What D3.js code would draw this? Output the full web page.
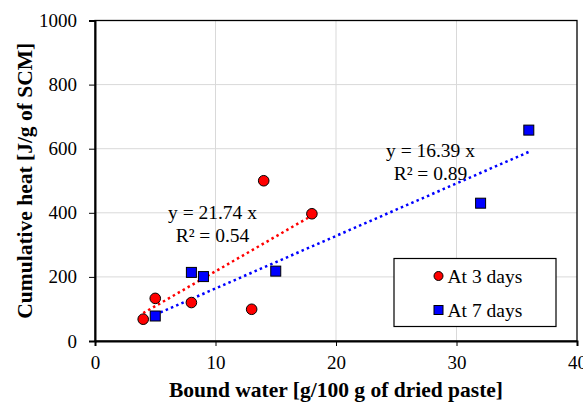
<!DOCTYPE html>
<html>
<head>
<meta charset="utf-8">
<script src="https://cdn.jsdelivr.net/npm/d3@7"></script>
<style>
  body { margin: 0; background: #fff; }
  svg { display: block; }
</style>
</head>
<body>
<svg id="chart" width="583" height="404"></svg>
<script>
// data
const day3X = [4, 5, 8, 13, 14, 18];
const day3Y = [68, 133, 120, 99, 500, 397];
const day7X = [5, 8, 9, 15, 32, 36];
const day7Y = [78, 214, 201, 218, 430, 658];
const slope3 = 21.74, r2_3 = 0.54;
const slope7 = 16.39, r2_7 = 0.89;
const xTicks = [0, 10, 20, 30, 40];
const yTicks = [0, 200, 400, 600, 800, 1000];

const serif = "'Liberation Serif', 'Times New Roman', serif";
const margin = {top: 20.5, right: 6, bottom: 63, left: 95};
const width = 583, height = 404;
const svg = d3.select("#chart");

const x = d3.scaleLinear().domain([0, 40]).range([margin.left, width - margin.right]);
const y = d3.scaleLinear().domain([0, 1000]).range([height - margin.bottom, margin.top]);

// grid
svg.append("g")
    .selectAll("line")
    .data(xTicks.slice(1, -1))
    .join("line")
    .attr("x1", d => x(d)).attr("x2", d => x(d))
    .attr("y1", y(0)).attr("y2", y(1000))
    .attr("stroke", "#d9d9d9").attr("stroke-width", 1);
svg.append("g")
    .selectAll("line")
    .data(yTicks.slice(1, -1))
    .join("line")
    .attr("x1", x(0)).attr("x2", x(40))
    .attr("y1", d => y(d)).attr("y2", d => y(d))
    .attr("stroke", "#d9d9d9").attr("stroke-width", 1);

// frame
svg.append("rect")
    .attr("x", x(0)).attr("y", y(1000))
    .attr("width", x(40) - x(0)).attr("height", y(0) - y(1000))
    .attr("fill", "none").attr("stroke", "#000").attr("stroke-width", 1.3);

const styleAxis = g => {
    g.attr("font-family", serif).attr("font-size", 19);
    g.select(".domain").attr("stroke-width", 2);
    g.selectAll("text").style("font-family", serif).attr("fill", "#000");
};

svg.append("g")
    .attr("transform", `translate(0,${y(0)})`)
    .call(d3.axisBottom(x).tickValues(xTicks).tickFormat(d3.format("d")).tickSize(5).tickPadding(10))
    .call(styleAxis);
svg.append("g")
    .attr("transform", `translate(${x(0)},0)`)
    .call(d3.axisLeft(y).tickValues(yTicks).tickFormat(d3.format("d")).tickSize(6).tickPadding(12))
    .call(styleAxis);

// trend lines (through origin), drawn over each series' x range
const trend = (xs, k) => [d3.min(xs), d3.max(xs)].map(v => [v, k * v]);
const line = d3.line().x(d => x(d[0])).y(d => y(d[1]));

svg.append("path")
    .attr("d", line(trend(day3X, slope3)))
    .attr("fill", "none").attr("stroke", "#ff0000")
    .attr("stroke-width", 2.5).attr("stroke-dasharray", "2.5,3.2");
svg.append("path")
    .attr("d", line(trend(day7X, slope7)))
    .attr("fill", "none").attr("stroke", "#0000ff")
    .attr("stroke-width", 2.5).attr("stroke-dasharray", "2.5,3.2");

// points
svg.append("g")
    .selectAll("circle")
    .data(d3.zip(day3X, day3Y))
    .join("circle")
    .attr("cx", d => x(d[0])).attr("cy", d => y(d[1]))
    .attr("r", 5.3)
    .attr("fill", "#ff0000").attr("stroke", "#000").attr("stroke-width", 1);
svg.append("g")
    .selectAll("rect")
    .data(d3.zip(day7X, day7Y))
    .join("rect")
    .attr("x", d => x(d[0]) - 5).attr("y", d => y(d[1]) - 5)
    .attr("width", 10).attr("height", 10)
    .attr("fill", "#0000ff").attr("stroke", "#000").attr("stroke-width", 1);

// equations
const eq = (cx, cy, k, r2) => {
    const t = svg.append("text")
        .attr("font-family", serif).attr("font-size", 19.5)
        .attr("text-anchor", "middle").attr("fill", "#000");
    t.append("tspan").attr("x", cx).attr("y", cy).text(`y = ${k.toFixed(2)} x`);
    t.append("tspan").attr("x", cx).attr("y", cy + 23.3).text(`R² = ${r2.toFixed(2)}`);
};
eq(212.5, 218.5, slope3, r2_3);
eq(430.5, 157, slope7, r2_7);

// legend
const lg = svg.append("g").attr("font-family", serif);
lg.append("rect")
    .attr("x", 394).attr("y", 258.5).attr("width", 162).attr("height", 68)
    .attr("fill", "#fff").attr("stroke", "#000").attr("stroke-width", 1.2);
lg.append("circle").attr("cx", 438.5).attr("cy", 276)
    .attr("r", 4.5).attr("fill", "#ff0000").attr("stroke", "#000");
lg.append("rect").attr("x", 434).attr("y", 305.5).attr("width", 9).attr("height", 9)
    .attr("fill", "#0000ff").attr("stroke", "#000");
lg.append("text").attr("x", 447.5).attr("y", 282.5).attr("font-size", 19.5).text("At 3 days");
lg.append("text").attr("x", 447.5).attr("y", 316.5).attr("font-size", 19.5).text("At 7 days");

// axis titles
svg.append("text")
    .attr("x", (x(0) + x(40)) / 2).attr("y", 396.5)
    .attr("font-family", serif)
    .attr("text-anchor", "middle").attr("font-weight", "bold").attr("font-size", 21.5)
    .text("Bound water [g/100 g of dried paste]");
svg.append("text")
    .attr("transform", `translate(32,${(y(0) + y(1000)) / 2}) rotate(-90)`)
    .attr("font-family", serif)
    .attr("text-anchor", "middle").attr("font-weight", "bold").attr("font-size", 21.5)
    .text("Cumulative heat [J/g of SCM]");
</script>
</body>
</html>
